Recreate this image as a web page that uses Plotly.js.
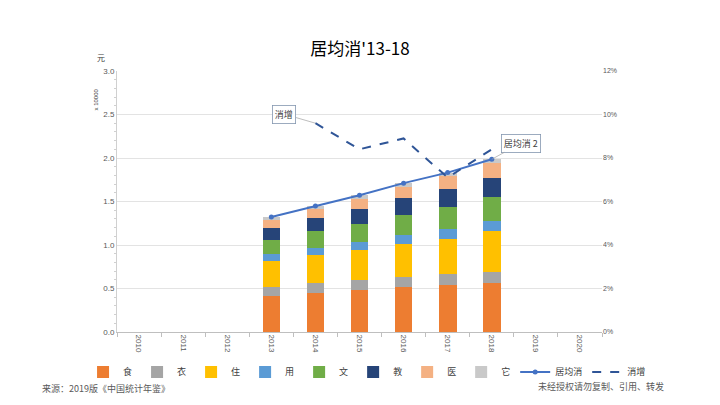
<!DOCTYPE html>
<html>
<head>
<meta charset="utf-8">
<script src="https://cdn.plot.ly/plotly-3.0.1.min.js"></script>
<style>html,body{margin:0;padding:0;background:#fff;}#chart{width:720px;height:405px;}</style>
</head>
<body>
<div id="chart"></div>
<script>
// Categories
const allYears = ['2010','2011','2012','2013','2014','2015','2016','2017','2018','2019','2020'];
const years = ['2013','2014','2015','2016','2017','2018'];
const growthYears = ['2014','2015','2016','2017','2018'];

// Per-capita consumption components (x 10000 yuan)
const food      = [0.4127, 0.4494, 0.4814, 0.5151, 0.5374, 0.5631];
const clothing  = [0.1027, 0.1099, 0.1164, 0.1203, 0.1238, 0.1289];
const housing   = [0.2999, 0.3201, 0.3419, 0.3746, 0.4107, 0.4647];
const household = [0.0806, 0.0890, 0.0951, 0.1044, 0.1121, 0.1223];
const transport = [0.1627, 0.1869, 0.2087, 0.2338, 0.2499, 0.2675];
const education = [0.1398, 0.1536, 0.1723, 0.1915, 0.2086, 0.2226];
const medical   = [0.0912, 0.1045, 0.1165, 0.1307, 0.1451, 0.1685];
const other     = [0.0325, 0.0358, 0.0389, 0.0406, 0.0447, 0.0477];

// Total per-capita consumption (x 10000 yuan) and growth (%)
const total  = [1.3220, 1.4491, 1.5712, 1.7111, 1.8322, 1.9853];
const growth = [9.6, 8.4, 8.9, 7.1, 8.4];

const seriesNames = ['食','衣','住','用','文','教','医','它'];
const seriesData = [food, clothing, housing, household, transport, education, medical, other];
const seriesColors = ['#ED7D31','#A5A5A5','#FFC000','#5B9BD5','#70AD47','#264478','#F4B183','#C9C9C9'];

const cjk = '"Noto Sans CJK SC", "Noto Sans", sans-serif';

const traces = seriesNames.map((n, i) => ({
  type: 'bar', name: n, x: years, y: seriesData[i],
  marker: {color: seriesColors[i]}, hoverinfo: 'skip'
}));
traces.push({
  type: 'scatter', mode: 'lines+markers', name: '居均消', x: years, y: total,
  line: {color: '#4472C4', width: 2}, marker: {color: '#4472C4', size: 5}
});
traces.push({
  type: 'scatter', mode: 'lines', name: '消增', x: growthYears, y: growth, yaxis: 'y2',
  line: {color: '#2F5597', width: 2, dash: 'dash'}
});

const catIdx = y => allYears.indexOf(y);

const layout = {
  width: 720, height: 405,
  margin: {l: 117, r: 118, t: 71, b: 73},
  paper_bgcolor: '#fff', plot_bgcolor: '#fff',
  barmode: 'stack', bargap: 0.6,
  font: {family: cjk, color: '#595959', size: 8},
  title: {text: "居均消'13-18", x: 0.5, xanchor: 'center', y: 0.88, yanchor: 'middle',
          font: {family: cjk, size: 17, color: '#000'}},
  xaxis: {
    type: 'category', categoryorder: 'array', categoryarray: allYears,
    range: [-0.5, 10.5], tickangle: 90, tickson: 'boundaries',
    ticks: 'outside', ticklen: 4, tickcolor: '#BFBFBF',
    showline: true, linecolor: '#BFBFBF', linewidth: 1,
    showgrid: false, tickfont: {size: 8, color: '#595959', family: 'Liberation Sans, sans-serif'}
  },
  yaxis: {
    range: [0, 3], dtick: 0.5, tickformat: '.1f',
    showgrid: true, gridcolor: '#E3E3E3', gridwidth: 1,
    showline: true, linecolor: '#D0D0D0', linewidth: 1,
    ticks: '', zeroline: false,
    minor: {ticks: 'outside', ticklen: 2, tickcolor: '#D0D0D0', dtick: 0.1, showgrid: false},
    tickfont: {size: 8, color: '#595959', family: 'Liberation Sans, sans-serif'}
  },
  yaxis2: {
    overlaying: 'y', side: 'right', range: [0, 12], dtick: 2, ticksuffix: '%',
    showgrid: false, zeroline: false, showline: false,
    tickfont: {size: 7, color: '#595959', family: 'Liberation Sans, sans-serif'}
  },
  legend: {
    orientation: 'h', x: -0.07, xanchor: 'left', y: -0.153, yanchor: 'middle',
    bgcolor: 'rgba(0,0,0,0)',
    font: {size: 9, color: '#404040', family: cjk}, itemwidth: 30, traceorder: 'normal'
  },
  showlegend: true,
  annotations: [
    {text: '消增', x: catIdx(growthYears[0]), y: growth[0], xref: 'x', yref: 'y2',
     showarrow: true, arrowhead: 0, arrowwidth: 0.7, arrowcolor: '#A0A0A0',
     ax: -31, ay: -9, bgcolor: '#fff', bordercolor: '#8497B0', borderwidth: 0.8, borderpad: 2,
     font: {size: 9, color: '#404040', family: cjk}},
    {text: '居均消 2', x: catIdx(years[5]), y: total[5], xref: 'x', yref: 'y',
     showarrow: true, arrowhead: 0, arrowwidth: 0.7, arrowcolor: '#A0A0A0',
     ax: 29, ay: -16, bgcolor: '#fff', bordercolor: '#8497B0', borderwidth: 0.8, borderpad: 2,
     font: {size: 9, color: '#404040', family: cjk}},
    {text: '元', xref: 'paper', yref: 'paper', x: -0.045, y: 1.05, yanchor: 'middle', showarrow: false,
     font: {size: 8, color: '#404040', family: cjk}},
    {text: 'x 10000', xref: 'paper', yref: 'paper', x: -0.054, y: 0.94, textangle: -90,
     showarrow: false, font: {size: 6, color: '#404040', family: 'Liberation Sans, sans-serif'}},
    {text: '来源：2019版《中国统计年鉴》', xref: 'paper', yref: 'paper', x: -0.159, y: -0.218,
     xanchor: 'left', yanchor: 'middle', showarrow: false,
     font: {size: 9, color: '#595959', family: cjk}},
    {text: '未经授权请勿复制、引用、转发', xref: 'paper', yref: 'paper', x: 1.132, y: -0.207,
     xanchor: 'right', yanchor: 'middle', showarrow: false,
     font: {size: 9, color: '#595959', family: cjk}}
  ]
};

Plotly.newPlot('chart', traces, layout, {displayModeBar: false, staticPlot: true});
</script>
</body>
</html>
